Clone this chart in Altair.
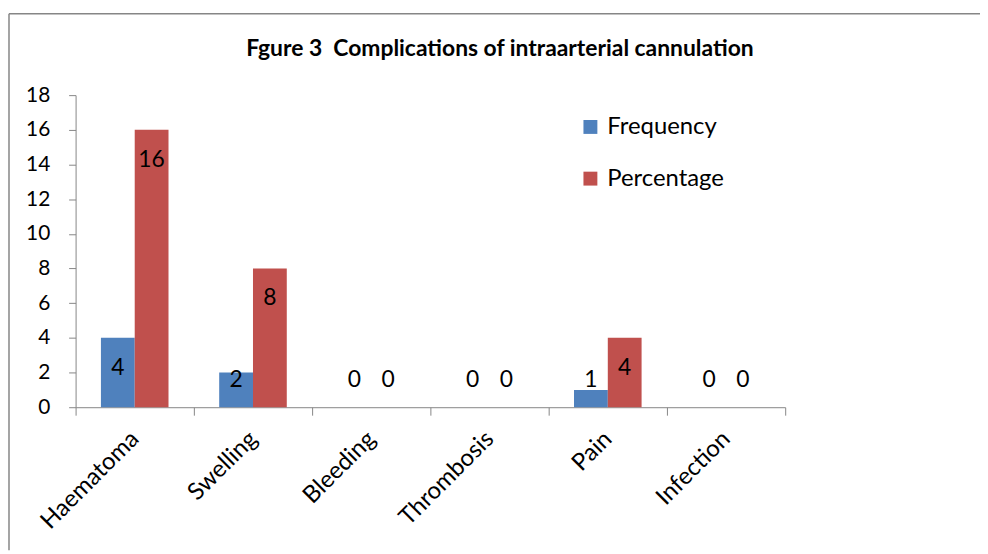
import altair as alt
import pandas as pd

categories = ["Haematoma", "Swelling", "Bleeding", "Thrombosis", "Pain", "Infection"]
series = ["Frequency", "Percentage"]
frequency = [4, 2, 0, 0, 1, 0]
percentage = [16, 8, 0, 0, 4, 0]
colors = ["#4F81BD", "#C0504D"]
y_ticks = [0, 2, 4, 6, 8, 10, 12, 14, 16, 18]
title_text = "Fgure 3\u00a0 Complications of intraarterial cannulation"

rows = []
for c, f, p in zip(categories, frequency, percentage):
    rows.append({"cat": c, "series": "Frequency", "value": f})
    rows.append({"cat": c, "series": "Percentage", "value": p})
df = pd.DataFrame(rows)

FONT = "Lato"
W, H = 714, 314
PAD = {"left": 68, "top": 86, "right": 196, "bottom": 144}
GRAY = "#868686"

x_axis = alt.Axis(labelAngle=315, labelAlign="right", labelBaseline="middle",
                  labelFontSize=24, labelFont=FONT, labelColor="black",
                  labelPadding=20, tickBand="extent", tickSize=8,
                  tickColor=GRAY, domainColor=GRAY, labelOverlap=False)
y_axis = alt.Axis(values=y_ticks, labelFontSize=21, labelFont=FONT,
                  labelColor="black", tickSize=7, tickColor=GRAY,
                  domainColor=GRAY, grid=False, labelPadding=19,
                  labelOverlap=False, labelFlush=False)
x_scale = alt.Scale(paddingInner=0, paddingOuter=0)
y_scale = alt.Scale(domain=[0, 18], nice=False)
xoff = alt.XOffset("series:N", sort=series,
                   scale=alt.Scale(paddingOuter=0.75, paddingInner=0))

base = alt.Chart(df)

bars = base.mark_bar().encode(
    x=alt.X("cat:N", sort=categories, title=None, scale=x_scale, axis=x_axis),
    xOffset=xoff,
    y=alt.Y("value:Q", title=None, scale=y_scale, axis=y_axis),
    color=alt.Color("series:N", sort=series,
                    scale=alt.Scale(domain=series, range=colors),
                    legend=alt.Legend(title=None, orient="none", legendX=506, legendY=20,
                                      symbolType="square", symbolSize=196,
                                      symbolStrokeWidth=0, labelFontSize=24,
                                      labelFont=FONT, labelColor="black",
                                      rowPadding=28, labelOffset=5)),
)

labels = base.transform_calculate(
    ly="max(datum.value - 1.72, 1.55)"
).mark_text(fontSize=23, font=FONT, color="black", baseline="middle").encode(
    x=alt.X("cat:N", sort=categories, title=None, scale=x_scale, axis=x_axis),
    xOffset=xoff,
    y=alt.Y("ly:Q", title=None, scale=y_scale, axis=y_axis),
    text=alt.Text("value:Q"),
)

frame_df = pd.DataFrame({"k": [0]})
top_line = alt.Chart(frame_df).mark_rule(color=GRAY, strokeWidth=1.5).encode(
    x=alt.value(-67), x2=alt.value(910), y=alt.value(-82))
left_line = alt.Chart(frame_df).mark_rule(color=GRAY, strokeWidth=1.5).encode(
    x=alt.value(-67), y=alt.value(-82), y2=alt.value(458))

title_df = pd.DataFrame({"t": [title_text]})
title = alt.Chart(title_df).mark_text(
    font=FONT, fontSize=23, fontWeight="bold", color="black",
    align="center", baseline="alphabetic"
).encode(x=alt.value(427), y=alt.value(-39), text="t:N")

chart = alt.layer(bars, labels, top_line, left_line, title).properties(
    width=W, height=H,
    padding=PAD,
    autosize=alt.AutoSizeParams(type="none"),
).configure_view(stroke=None)

chart.save("out.html", embed_options={"renderer": "svg", "actions": False})
